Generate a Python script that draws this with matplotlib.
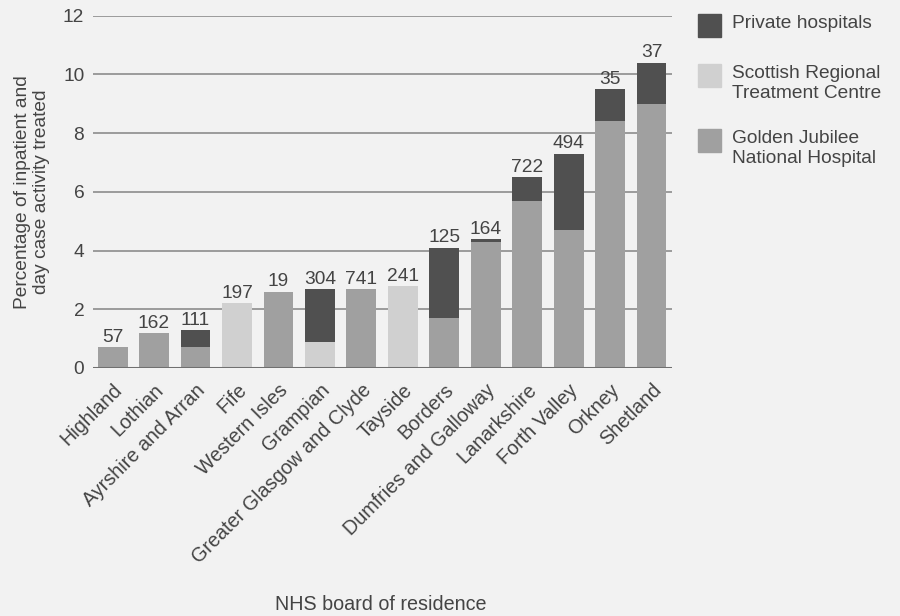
import matplotlib.pyplot as plt
from matplotlib.patches import Rectangle

plt.rcParams['font.family'] = ['Liberation Sans', 'DejaVu Sans']

boards = ['Highland', 'Lothian', 'Ayrshire and Arran', 'Fife', 'Western Isles',
          'Grampian', 'Greater Glasgow and Clyde', 'Tayside', 'Borders',
          'Dumfries and Galloway', 'Lanarkshire', 'Forth Valley', 'Orkney', 'Shetland']
golden_jubilee = [0.7, 1.2, 0.7, 0, 2.6, 0, 2.7, 0, 1.7, 4.3, 5.7, 4.7, 8.4, 9.0]
regional_centre = [0, 0, 0, 2.2, 0, 0.9, 0, 2.8, 0, 0, 0, 0, 0, 0]
private = [0, 0, 0.6, 0, 0, 1.8, 0, 0, 2.4, 0.1, 0.8, 2.6, 1.1, 1.4]
counts = [57, 162, 111, 197, 19, 304, 741, 241, 125, 164, 722, 494, 35, 37]

c_priv = '#505050'
c_srtc = '#d0d0d0'
c_gj = '#a0a0a0'
txt = '#444444'
bg = '#f2f2f2'
fs = 13.8

fig = plt.figure(figsize=(9, 6.16), dpi=100, facecolor=bg)
ax = fig.add_axes([0.103, 0.4026, 0.644, 0.572], facecolor=bg)

x = range(len(boards))
w = 0.72
ax.bar(x, golden_jubilee, w, color=c_gj, zorder=3)
ax.bar(x, regional_centre, w, bottom=golden_jubilee, color=c_srtc, zorder=3)
base = [g + r for g, r in zip(golden_jubilee, regional_centre)]
ax.bar(x, private, w, bottom=base, color=c_priv, zorder=3)

for i, n in enumerate(counts):
    ax.text(i, base[i] + private[i] + 0.04, str(n), ha='center', va='bottom',
            fontsize=fs, color=txt)

ax.set_ylim(0, 12)
ax.set_xlim(-0.48, 13.5)
ax.set_yticks(range(0, 13, 2))
ax.grid(axis='y', color='#8c8c8c', lw=1.2, zorder=1)
ax.axhline(0, color='#707070', lw=2.2, zorder=4)
for s in ax.spines.values():
    s.set_visible(False)
ax.tick_params(length=0, labelsize=fs, colors=txt, pad=6)
ax.set_xticks(list(x))
ax.set_xticklabels(boards, rotation=45, ha='right', rotation_mode='anchor',
                   fontsize=14.2)
ax.tick_params(axis='x', pad=9)

ax.set_ylabel('Percentage of inpatient and\nday case activity treated',
              fontsize=fs, color=txt, labelpad=9, linespacing=1.2)
fig.text(381 / 900, 0.004, 'NHS board of residence', ha='center', va='bottom',
         fontsize=14.2, color=txt)

# legend
items = [(c_priv, 'Private hospitals', 14),
         (c_srtc, 'Scottish Regional\nTreatment Centre', 64),
         (c_gj, 'Golden Jubilee\nNational Hospital', 129)]
for col, lab, ytop in items:
    fig.add_artist(Rectangle((698 / 900, 1 - (ytop + 23) / 616), 23 / 900, 23 / 616,
                             transform=fig.transFigure, color=col))
    fig.text(732 / 900, 1 - (ytop + 1) / 616, lab, ha='left', va='top',
             fontsize=fs, color=txt, linespacing=1.25)

fig.savefig('out.png', dpi=100, facecolor=bg)
